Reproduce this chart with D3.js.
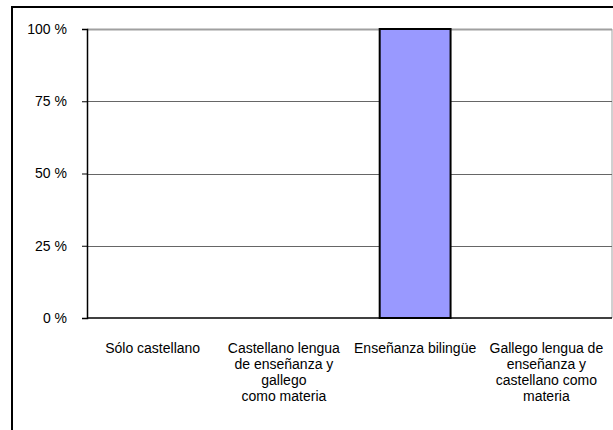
<!DOCTYPE html>
<html>
<head>
<meta charset="utf-8">
<script src="https://cdn.jsdelivr.net/npm/d3@7"></script>
<style>
  body { margin: 0; background: #fff; }
  text { font-family: "Liberation Sans", Arial, sans-serif; }
</style>
</head>
<body>
<div id="chart"></div>
<script>
var categories = ["Sólo castellano", "Castellano lengua de enseñanza y gallego como materia", "Enseñanza bilingüe", "Gallego lengua de enseñanza y castellano como materia"];
var categoryLines = [
  ["Sólo castellano"],
  ["Castellano lengua", "de enseñanza y", "gallego", "como materia"],
  ["Enseñanza bilingüe"],
  ["Gallego lengua de", "enseñanza y", "castellano como", "materia"]
];
var values = [0, 0, 100, 0];
var tickValues = [0, 25, 50, 75, 100];

var svgWidth = 613;
var svgHeight = 430;

var margin = { top: 29, right: 1, bottom: 112, left: 87 };
var width = svgWidth - margin.left - margin.right;
var height = svgHeight - margin.top - margin.bottom;

var svg = d3.select("#chart")
  .append("svg")
  .attr("width", svgWidth)
  .attr("height", svgHeight);

// outer frame (runs past the right and bottom edges)
svg.append("rect")
  .attr("x", 12)
  .attr("y", 7)
  .attr("width", 640)
  .attr("height", 460)
  .attr("fill", "none")
  .attr("stroke", "#000")
  .attr("stroke-width", 2);

var chartGroup = svg.append("g")
  .attr("transform", `translate(${margin.left}, ${margin.top})`);

var x = d3.scaleBand()
  .domain(categories)
  .range([0, width])
  .paddingInner(0.46)
  .paddingOuter(0.23);

var y = d3.scaleLinear()
  .domain([0, 100])
  .range([height, 0]);

// plot area right border
chartGroup.append("line")
  .attr("x1", width).attr("x2", width)
  .attr("y1", 0).attr("y2", height)
  .attr("stroke", "#c0c0c0")
  .attr("stroke-width", 1.5);

// gridlines
chartGroup.selectAll(".grid")
  .data(tickValues.filter(d => d > 0))
  .enter().append("line")
  .attr("class", "grid")
  .attr("x1", 0).attr("x2", width)
  .attr("y1", d => Math.round(y(d)) + 0.5)
  .attr("y2", d => Math.round(y(d)) + 0.5)
  .attr("stroke", d => d === 100 ? "#a0a0a0" : "#666")
  .attr("stroke-width", d => d === 100 ? 2 : 1);

// bars
chartGroup.selectAll(".bar")
  .data(values)
  .enter().append("rect")
  .attr("class", "bar")
  .attr("x", (d, i) => x(categories[i]))
  .attr("y", d => y(d))
  .attr("width", x.bandwidth())
  .attr("height", d => height - y(d))
  .attr("fill", "#9999ff")
  .attr("stroke", d => d > 0 ? "#000" : "none")
  .attr("stroke-width", 2);

// y axis
var leftAxis = d3.axisLeft(y)
  .tickValues(tickValues)
  .tickSize(5)
  .tickPadding(15)
  .tickFormat(d => d + " %");

var yAxis = chartGroup.append("g").call(leftAxis);
yAxis.select(".domain").attr("stroke", "#000").attr("stroke-width", 1.5);
yAxis.selectAll(".tick line").attr("stroke", "#000");
yAxis.selectAll("text")
  .attr("font-size", "14px")
  .attr("font-family", "Liberation Sans, Arial, sans-serif")
  .attr("fill", "#000");

// x axis line
chartGroup.append("line")
  .attr("x1", 0).attr("x2", width)
  .attr("y1", height).attr("y2", height)
  .attr("stroke", "#000")
  .attr("stroke-width", 1.5);

// category labels
var labels = chartGroup.selectAll(".cat")
  .data(categoryLines)
  .enter().append("text")
  .attr("class", "cat")
  .attr("text-anchor", "middle")
  .attr("font-size", "14px")
  .attr("fill", "#000")
  .attr("transform", (d, i) => `translate(${x(categories[i]) + x.bandwidth() / 2}, ${height + 35})`);

labels.selectAll("tspan")
  .data(d => d)
  .enter().append("tspan")
  .attr("x", 0)
  .attr("dy", (d, i) => i === 0 ? 0 : 16)
  .text(d => d);
</script>
</body>
</html>
